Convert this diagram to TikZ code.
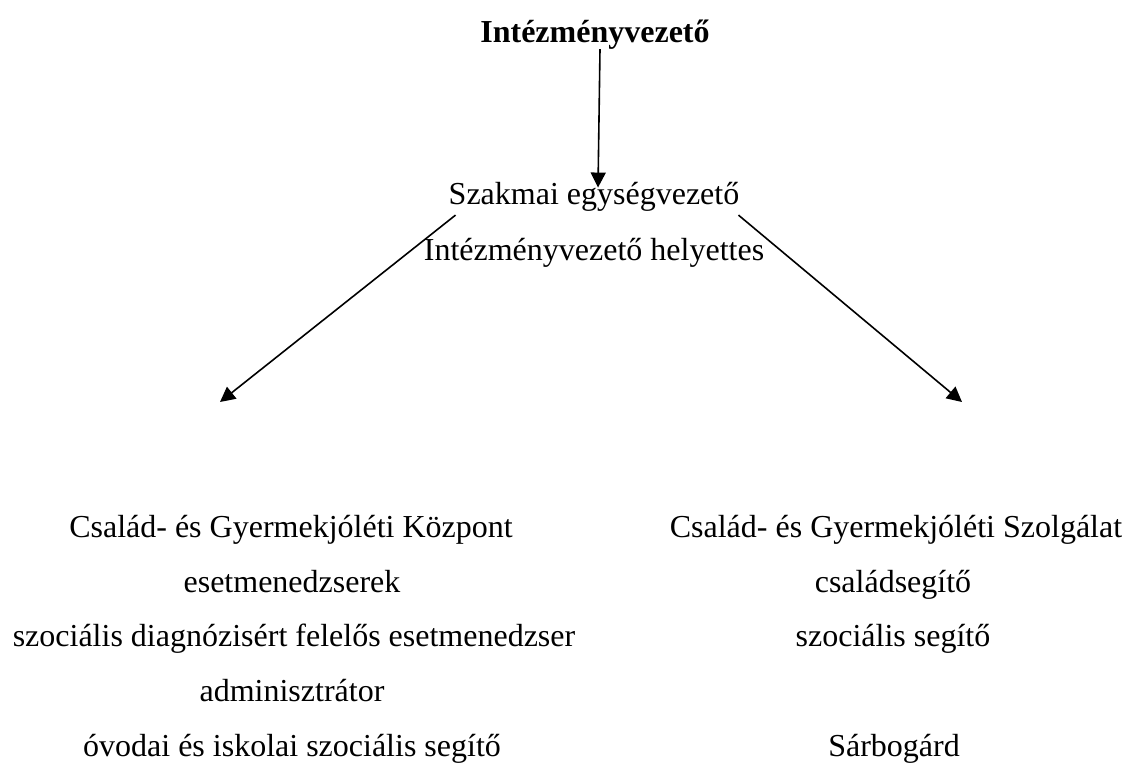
\documentclass[tikz,border=0pt]{standalone}
\usepackage{fontspec}
\setmainfont{Liberation Serif}
\usetikzlibrary{arrows.meta,positioning}

\tikzset{
	szoveg/.style={inner sep=0pt, anchor=base, font=\fontsize{32}{38}\selectfont},
	nyil/.style={line width=1.6pt, -{Triangle[length=15pt,width=15pt]}}
}

\begin{document}
\begin{tikzpicture}[x=1pt,y=-1pt]
		
		\useasboundingbox (0,0) rectangle (1127,763);
		
		%vezeto
		\node[szoveg, font=\fontsize{32}{38}\selectfont\bfseries] (vezeto) at (595,42) {Intézményvezető};
		%szakmai
		\node[szoveg] (szakmai) at (594,204) {Szakmai egységvezető};
		\node[szoveg] (helyettes) at (594,260) {Intézményvezető helyettes};
		
		%kozpont
		\node[szoveg] (k1) at (291,537) {Család- és Gyermekjóléti Központ};
		\node[szoveg] (k2) at (292,592) {esetmenedzserek};
		\node[szoveg] (k3) at (294,646) {szociális diagnózisért felelős esetmenedzser};
		\node[szoveg] (k4) at (292,701) {adminisztrátor};
		\node[szoveg] (k5) at (292,756) {óvodai és iskolai szociális segítő};
		
		%szolgalat
		\node[szoveg] (s1) at (896,537) {Család- és Gyermekjóléti Szolgálat};
		\node[szoveg] (s2) at (893,592) {családsegítő};
		\node[szoveg] (s3) at (893,646) {szociális segítő};
		\node[szoveg] (s4) at (894,756) {Sárbogárd};
		
		\coordinate (bal) at (220,402);
		\coordinate (jobb) at (962,402);
		
		\draw[nyil] ([xshift=5pt]vezeto.south) -- ([xshift=4pt,yshift=-6pt]szakmai.north);
		\draw[nyil] ([xshift=7pt,yshift=-4pt]szakmai.south west) -- (bal);
		\draw[nyil] ([xshift=-1pt,yshift=-4pt]szakmai.south east) -- (jobb);
		
\end{tikzpicture}
\end{document}
